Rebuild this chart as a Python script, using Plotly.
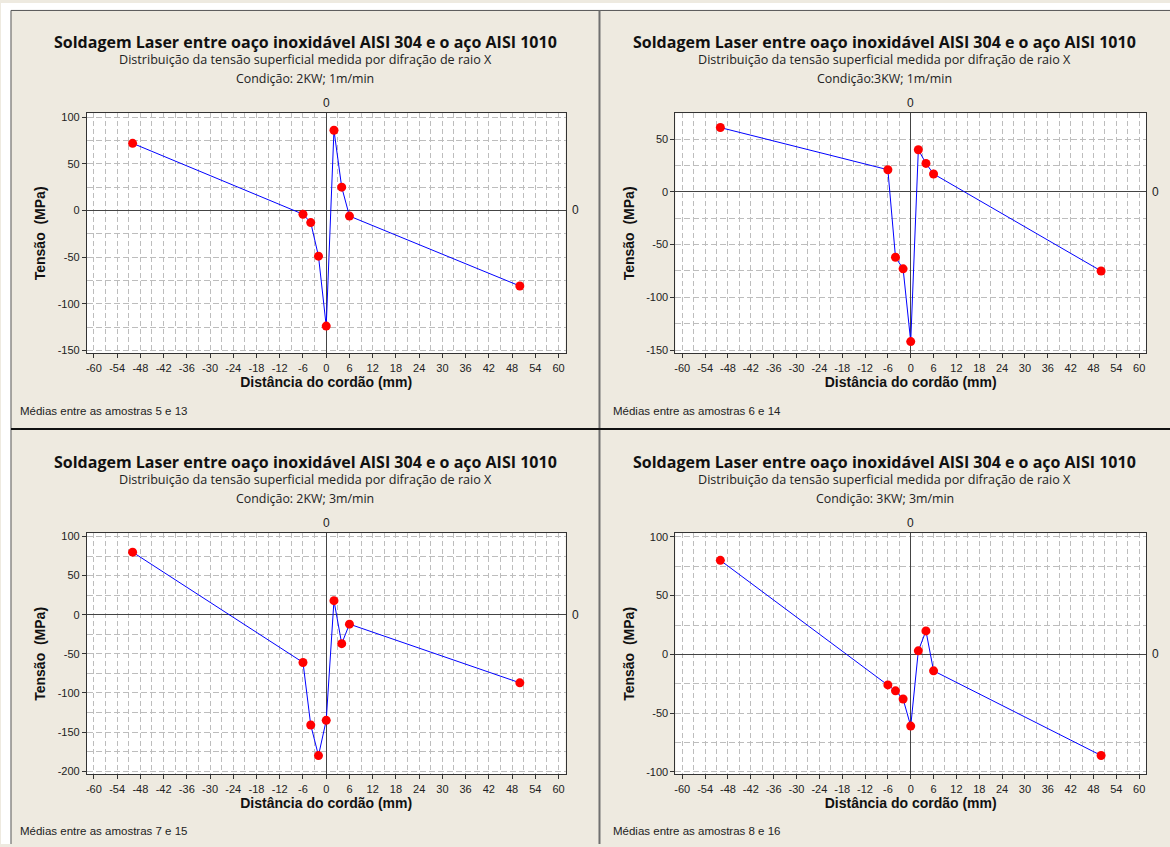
import plotly.graph_objects as go

# ---------------- data ----------------
distancia = [-50, -6, -4, -2, 0, 2, 4, 6, 50]  # mm
tensao_2kw_1m = [72, -4, -13, -49, -124, 86, 25, -6, -81]
tensao_3kw_1m = [61, 21, -62, -73, -142, 40, 27, 17, -75]
tensao_2kw_3m = [80, -61, -141, -180, -135, 18, -37, -12, -87]
tensao_3kw_3m = [80, -26, -31, -38, -61, 3, 20, -14, -86]

titulo = "Soldagem Laser entre oaço inoxidável AISI 304 e o aço AISI 1010"
subtitulo = "Distribuição da tensão superficial medida por difração de raio X"
condicoes = ["Condição: 2KW; 1m/min", "Condição:3KW; 1m/min",
             "Condição: 2KW; 3m/min", "Condição: 3KW; 3m/min"]
notas = ["Médias entre as amostras 5 e 13", "Médias entre as amostras 6 e 14",
         "Médias entre as amostras 7 e 15", "Médias entre as amostras 8 e 16"]
series = [tensao_2kw_1m, tensao_3kw_1m, tensao_2kw_3m, tensao_3kw_3m]
y_ranges = [[-153.4, 104.3], [-153.3, 74.6], [-204.2, 104.2], [-102.2, 103.1]]
y_ticks = [[-150, -100, -50, 0, 50, 100], [-150, -100, -50, 0, 50],
           [-200, -150, -100, -50, 0, 50, 100], [-100, -50, 0, 50, 100]]
x_range = [-61.8, 61.8]
x_ticks = list(range(-60, 61, 6))
x_minor = list(range(-57, 61, 6))

# ---------------- layout helpers ----------------
W, H = 1170, 847
def px(x):
    return x / W
def py(y):
    return 1 - y / H

BG = "#EEEAE0"
FONT = "Liberation Sans"
TFONT = "Open Sans"
GRID = "#BDBDBD"
DASH_X = "5px,3px"
DASH_Y = "6px,3px"
boxes = [(86, 565, 111, 353), (675, 1146, 111, 353),
         (86, 565, 534, 777), (675, 1146, 534, 777)]
panel_x = [(10, 599), (599, 1170), (10, 599), (599, 1170)]
note_x = [17, 611, 17, 611]

fig = go.Figure()
annotations = []
layout_axes = {}

for i, (ys, box) in enumerate(zip(series, boxes)):
    n = "" if i == 0 else str(i + 1)
    xa, ya = "x" + n, "y" + n
    fig.add_trace(go.Scatter(
        x=distancia, y=ys, mode="lines+markers", xaxis=xa, yaxis=ya,
        line=dict(color="#0000FF", width=1),
        marker=dict(color="#FF0000", size=9), showlegend=False, cliponaxis=False))
    l, r, t, b = box
    common = dict(showline=True, mirror=True, linecolor="#333333", linewidth=1,
                  ticks="outside", ticklen=4, tickcolor="#333333",
                  showgrid=True, gridcolor=GRID, gridwidth=1,
                  zeroline=True, zerolinecolor="#444444", zerolinewidth=1,
                  tickfont=dict(family=FONT, size=11, color="#222222"))
    layout_axes["xaxis" + n] = dict(
        common, domain=[px(l), px(r)], range=x_range, tickmode="array",
        tickvals=x_ticks, ticktext=[str(v) for v in x_ticks],
        griddash=DASH_X,
        minor=dict(tickmode="array", tickvals=x_minor, showgrid=True, gridcolor=GRID,
                   griddash=DASH_X, gridwidth=1, ticks=""),
        anchor=ya, title=dict(text="<b>Distância do cordão (mm)</b>", standoff=4,
                              font=dict(family=FONT, size=14, color="#111111")))
    layout_axes["yaxis" + n] = dict(
        common, domain=[py(b), py(t)], range=y_ranges[i], tickmode="array",
        tickvals=y_ticks[i], ticktext=[str(v) for v in y_ticks[i]],
        griddash=DASH_Y,
        minor=dict(dtick=25, tick0=0, showgrid=True, gridcolor=GRID, griddash=DASH_Y,
                   gridwidth=1, ticks=""),
        anchor=xa, title=dict(text="<b>Tensão  (MPa)</b>", standoff=8,
                              font=dict(family=FONT, size=14, color="#111111")))
    cx = (panel_x[i][0] + panel_x[i][1]) / 2
    off = 0 if i < 2 else 423
    annotations += [
        dict(text="<b>" + titulo + "</b>", x=px(cx), y=py(39 + off), xref="paper", yref="paper",
             showarrow=False, xanchor="center", yanchor="middle",
             font=dict(family=TFONT, size=16, color="#111111")),
        dict(text=subtitulo, x=px(cx), y=py(57 + off), xref="paper", yref="paper",
             showarrow=False, xanchor="center", yanchor="middle",
             font=dict(family=TFONT, size=12.6, color="#222222")),
        dict(text=condicoes[i], x=px(cx), y=py(76 + off), xref="paper", yref="paper",
             showarrow=False, xanchor="center", yanchor="middle",
             font=dict(family=TFONT, size=12.4, color="#222222")),
        dict(text=notas[i], x=px(note_x[i]), y=py(411 + off), xref="paper", yref="paper",
             showarrow=False, xanchor="left", yanchor="middle",
             font=dict(family=FONT, size=11.5, color="#222222")),
        dict(text="0", x=0, y=1, xref=xa, yref=ya + " domain", showarrow=False,
             xanchor="center", yanchor="bottom", yshift=1,
             font=dict(family=FONT, size=12, color="#222222")),
        dict(text="0", x=1, y=0, xref=xa + " domain", yref=ya, showarrow=False,
             xanchor="left", yanchor="middle", xshift=4,
             font=dict(family=FONT, size=12, color="#222222")),
    ]

shapes = [
    dict(type="rect", xref="paper", yref="paper", x0=0, x1=1, y0=py(7), y1=1,
         fillcolor="white", line=dict(width=0), layer="below"),
    dict(type="rect", xref="paper", yref="paper", x0=0, x1=px(10), y0=0, y1=1,
         fillcolor="white", line=dict(width=0), layer="below"),
    dict(type="line", xref="paper", yref="paper", x0=px(10), x1=1, y0=py(7.5), y1=py(7.5),
         line=dict(color="#555555", width=1)),
    dict(type="line", xref="paper", yref="paper", x0=px(10), x1=px(10), y0=0, y1=py(7.5),
         line=dict(color="#555555", width=1)),
    dict(type="line", xref="paper", yref="paper", x0=px(599), x1=px(599), y0=0, y1=py(7.5),
         line=dict(color="#707070", width=2)),
    dict(type="line", xref="paper", yref="paper", x0=px(10), x1=1, y0=py(429), y1=py(429),
         line=dict(color="#111111", width=2)),
]

fig.update_layout(
    width=W, height=H, margin=dict(l=0, r=0, t=0, b=0),
    paper_bgcolor=BG, plot_bgcolor="white", showlegend=False,
    annotations=annotations, shapes=shapes, **layout_axes)

fig.write_html("out.html", config={"displayModeBar": False},
               post_script="document.body.style.margin='0';document.body.style.overflow='hidden';")
